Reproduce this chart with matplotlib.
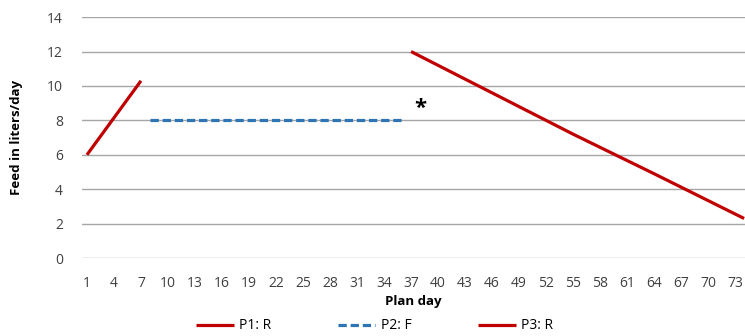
import numpy as np
import matplotlib.pyplot as plt

plt.rcParams['font.family'] = ['Open Sans', 'DejaVu Sans']

# P1: ramp-up phase
p1_days = [1, 7]
p1_feed = [6.0, 10.3]

# P2: flat phase
p2_days = list(range(8, 37))
p2_feed = [8.0] * len(p2_days)

# P3: ramp-down phase
p3_days = [37, 46, 55, 64, 74]
p3_feed = [12.0, 9.6, 7.2, 4.9, 2.3]

star_day, star_val = 38, 8.7
xticks = list(range(1, 74, 3))
yticks = [0, 2, 4, 6, 8, 10, 12, 14]

fig = plt.figure(figsize=(7.45, 3.36), dpi=100)
ax = fig.add_axes([0.1107, 0.232, 0.8893, 0.717])

red = '#C00000'
blue = '#2E75B6'
ax.plot(p1_days, p1_feed, color=red, lw=2.3, label='P1: R', solid_capstyle='butt')
ax.plot(p2_days, p2_feed, color=blue, lw=2.3, ls=(0, (2.6, 1.2)), label='P2: F')
ax.plot(p3_days, p3_feed, color=red, lw=2.3, label='P3: R', solid_capstyle='butt')
ax.text(star_day, star_val, '*', fontsize=16, fontweight='bold', ha='center', va='center')

ax.set_xlim(0.5, 74.1)
ax.set_ylim(0, 14)
ax.set_xticks(xticks)
ax.set_yticks(yticks)
ax.grid(axis='y', color='#A6A6A6', lw=1)
ax.set_axisbelow(True)
for s in ax.spines.values():
    s.set_visible(False)
ax.tick_params(length=0, labelsize=10, colors='#404040')
ax.tick_params(axis='x', pad=13)
ax.tick_params(axis='y', pad=14)

ax.set_xlabel('Plan day', fontsize=9.5, fontweight='bold', labelpad=3)
ax.set_ylabel('Feed in liters/day', fontsize=9.5, fontweight='bold', labelpad=17)

fig.legend(*ax.get_legend_handles_labels(), loc='center', bbox_to_anchor=(0.503, 0.03),
           ncol=3, frameon=False, fontsize=10, handlelength=2.7, handletextpad=0.4,
           columnspacing=4.8)

fig.savefig('out.png', dpi=100)
